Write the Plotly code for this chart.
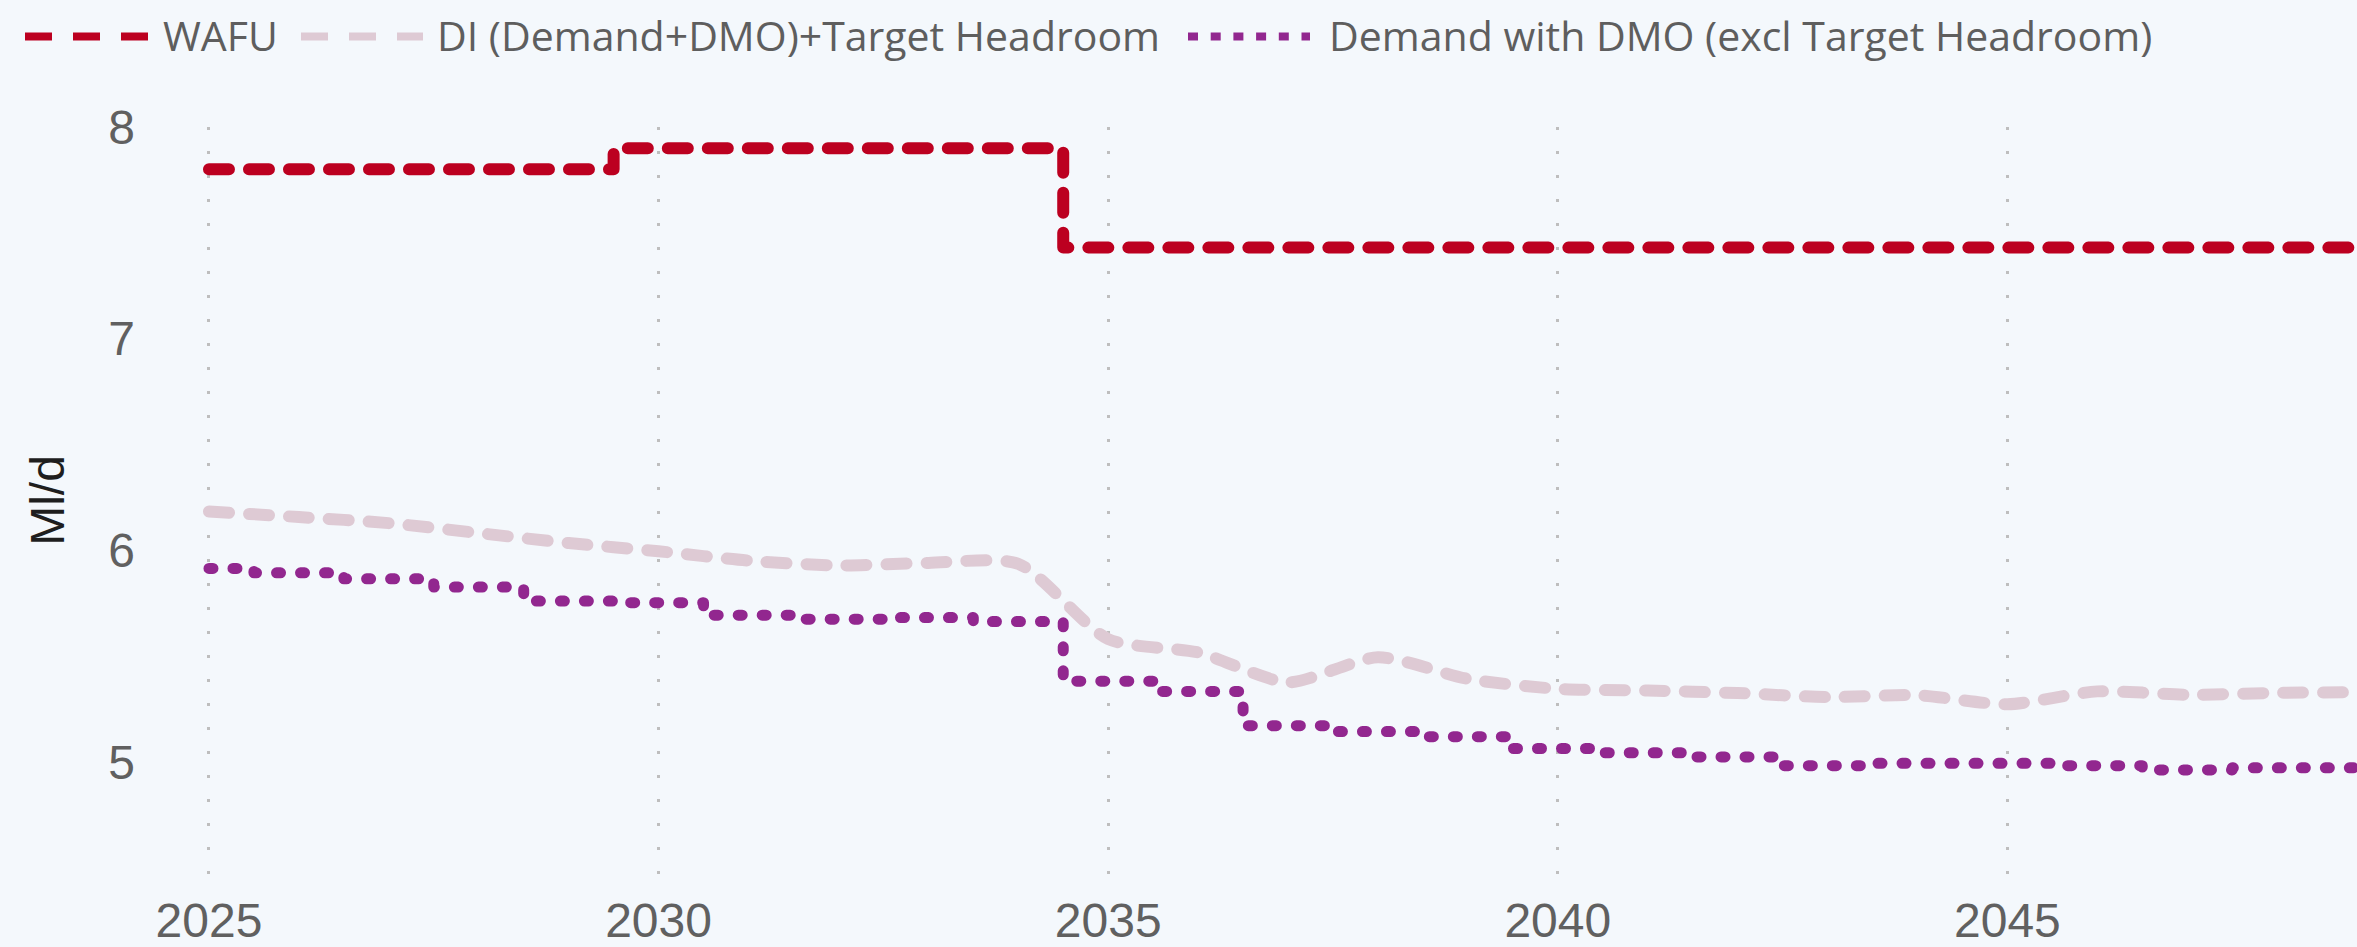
import plotly.graph_objects as go

# ---------------- data ----------------
years = list(range(2025, 2050))

wafu = [7.80, 7.80, 7.80, 7.80, 7.80,
        7.90, 7.90, 7.90, 7.90, 7.90,
        7.43, 7.43, 7.43, 7.43, 7.43,
        7.43, 7.43, 7.43, 7.43, 7.43,
        7.43, 7.43, 7.43, 7.43, 7.43]

di_target = [6.183, 6.157, 6.128, 6.081, 6.034,
             5.995, 5.951, 5.928, 5.940, 5.936,
             5.580, 5.517, 5.376, 5.494, 5.392,
             5.345, 5.337, 5.325, 5.306, 5.315,
             5.272, 5.333, 5.317, 5.326, 5.329]

demand_dmo = [5.914, 5.893, 5.865, 5.826, 5.760,
              5.752, 5.693, 5.674, 5.682, 5.663,
              5.381, 5.333, 5.171, 5.143, 5.119,
              5.063, 5.043, 5.023, 4.982, 4.993,
              4.993, 4.982, 4.962, 4.972, 4.972]

series_names = ["WAFU",
                "DI (Demand+DMO)+Target Headroom",
                "Demand with DMO (excl Target Headroom)"]
x_tick_vals = [2025, 2030, 2035, 2040, 2045]
y_tick_vals = [5, 6, 7, 8]
y_title = "Ml/d"

# ---------------- styling ----------------
C_WAFU = "#BC0020"
C_DI = "#DECAD4"
C_DEM = "#92278F"
BG = "#F4F8FC"

W, H = 2357, 947
L, R, T, B = 140, 0, 127, 69
PW, PH = W - L - R, H - T - B

fig = go.Figure()

fig.add_trace(go.Scatter(
    x=years, y=di_target, mode="lines", name=series_names[1],
    line=dict(color=C_DI, width=12, dash="20px,20px", shape="spline", smoothing=0.7),
    showlegend=False))
fig.add_trace(go.Scatter(
    x=years, y=demand_dmo, mode="lines", name=series_names[2],
    line=dict(color=C_DEM, width=11, dash="4px,20px", shape="hvh"),
    showlegend=False))
fig.add_trace(go.Scatter(
    x=years, y=wafu, mode="lines", name=series_names[0],
    line=dict(color=C_WAFU, width=12, dash="20px,20px", shape="hvh"),
    showlegend=False))

# ---------------- custom legend (drawn in pixel space above the plot) ----------------
def px_x(px):
    return (px - L) / PW

def px_y(py):
    return 1 - (py - T) / PH

legend_items = [
    (series_names[0], C_WAFU, "27px,21px", 25, 148, 161),
    (series_names[1], C_DI, "27px,21px", 301, 423, 435),
    (series_names[2], C_DEM, "10px,12.7px", 1188, 1310, 1327),
]
LEG_Y = 36
shapes = []
annotations = []
for name, col, dash, x0, x1, tx in legend_items:
    shapes.append(dict(type="line", xref="paper", yref="paper",
                       x0=px_x(x0), x1=px_x(x1), y0=px_y(LEG_Y), y1=px_y(LEG_Y),
                       line=dict(color=col, width=8, dash=dash)))
    annotations.append(dict(xref="paper", yref="paper", x=px_x(tx), y=px_y(LEG_Y - 1),
                            xanchor="left", yanchor="middle", showarrow=False,
                            text=name, font=dict(family="Open Sans", size=41, color="#5E5E5E")))

fig.update_layout(
    width=W, height=H,
    margin=dict(l=L, r=R, t=T, b=B, pad=0),
    paper_bgcolor=BG, plot_bgcolor=BG,
    showlegend=False,
    shapes=shapes, annotations=annotations,
    font=dict(family="Liberation Sans, Arial", size=48, color="#606060"),
)
fig.update_xaxes(
    range=[2024.233, 2048.888], tickvals=x_tick_vals, ticktext=[str(v) for v in x_tick_vals],
    showgrid=True, gridcolor="#BEBEBE", gridwidth=3, griddash="3px,21px",
    zeroline=False, showline=False, ticks="", ticklabelstandoff=14,
    tickfont=dict(family="Liberation Sans, Arial", size=48, color="#606060"),
)
fig.update_yaxes(
    range=[4.47, 8.0], tickvals=y_tick_vals,
    showgrid=False, zeroline=False, showline=False, ticks="", ticklabelstandoff=4,
    tickfont=dict(family="Liberation Sans, Arial", size=48, color="#606060"),
    title=dict(text=y_title, standoff=28,
               font=dict(family="Liberation Sans, Arial", size=48, color="#1E1E1E")),
)

post = """
document.body.style.margin='0';
document.body.style.overflow='hidden';
var gd = document.getElementById('{plot_id}');
function rc(){
  gd.querySelectorAll('.scatterlayer .js-line').forEach(function(p){
    p.style.strokeLinecap='round'; p.style.strokeLinejoin='round';
  });
}
rc();
if (gd.on) { gd.on('plotly_afterplot', rc); }
"""

fig.write_html("out.html", post_script=post, config={"displayModeBar": False})
